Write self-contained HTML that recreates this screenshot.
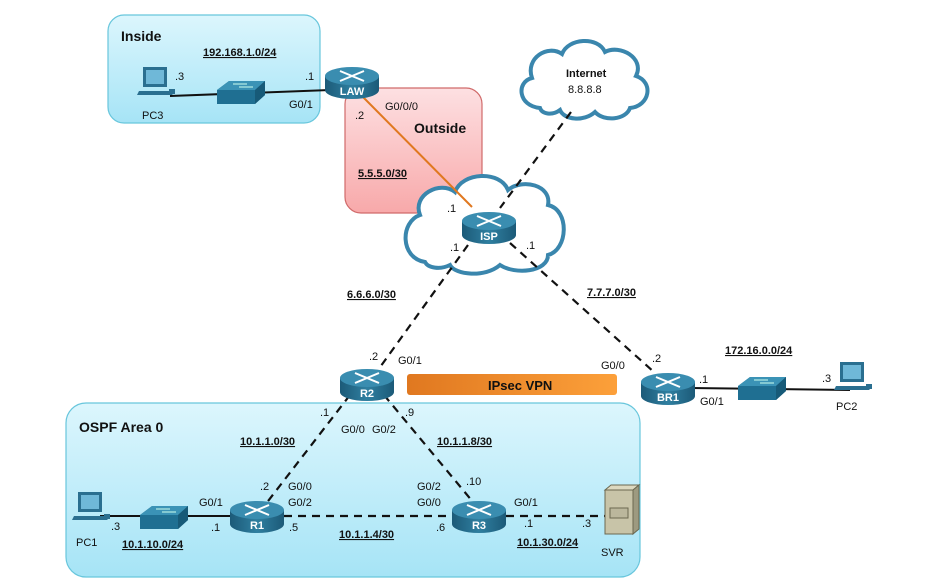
<!DOCTYPE html>
<html><head><style>
html,body{margin:0;padding:0;background:#fff}
svg{display:block;font-family:"Liberation Sans",Arial,sans-serif}
.l{font-size:11px;fill:#111}
.b{font-size:11px;font-weight:bold;fill:#111;text-decoration:underline}
.t{font-size:14px;font-weight:bold;fill:#111}
.rl{font-size:11px;font-weight:bold;fill:#fff}
</style></head><body>
<svg width="926" height="587" viewBox="0 0 926 587" xmlns="http://www.w3.org/2000/svg">
<defs>
<linearGradient id="cy" x1="0" y1="0" x2="0" y2="1"><stop offset="0" stop-color="#dcf6fd"/><stop offset="1" stop-color="#a6e4f6"/></linearGradient>
<linearGradient id="pk" x1="0" y1="0" x2="0" y2="1"><stop offset="0" stop-color="#fde0e2"/><stop offset="1" stop-color="#f8a9aa"/></linearGradient>
<linearGradient id="or" x1="0" y1="0" x2="1" y2="0"><stop offset="0" stop-color="#e07820"/><stop offset="1" stop-color="#fca03a"/></linearGradient>
<linearGradient id="rt" x1="0" y1="0" x2="1" y2="0"><stop offset="0" stop-color="#1c5a78"/><stop offset="0.5" stop-color="#2f7fa0"/><stop offset="1" stop-color="#1c5a78"/></linearGradient>
<g id="router">
<path d="M-27,-4 L-27,10 A27,9 0 0 0 27,10 L27,-4 Z" fill="url(#rt)"/>
<ellipse cx="0" cy="-4" rx="27" ry="9" fill="#3a8db0"/>
<path d="M-12,-9 L12,1 M-12,1 L12,-9" stroke="#fff" stroke-width="2"/>
</g>
<g id="switch">
<path d="M-24,0 L-12,-9 L24,-9 L24,5 L14,14 L-24,14 Z" fill="#1f6f92"/>
<path d="M-24,0 L-12,-9 L24,-9 L14,0 Z" fill="#3b93b6"/>
<path d="M14,0 L24,-9 L24,5 L14,14 Z" fill="#175a78"/>
<path d="M-8,-6 L6,-6 M-2,-3 L12,-3" stroke="#cfe" stroke-width="1"/>
</g>
<g id="pc">
<rect x="-12" y="-20" width="24" height="20" fill="#2a6f90"/>
<rect x="-9" y="-17" width="18" height="14" fill="#6fb8d8"/>
<path d="M-16,4 L14,4 L18,8 L-18,8 Z" fill="#2a6f90"/>
<rect x="14" y="2" width="6" height="5" fill="#2a6f90"/>
</g>
</defs>

<rect x="108" y="15" width="212" height="108" rx="16" fill="url(#cy)" stroke="#68c6dc" stroke-width="1.2"/>
<rect x="345" y="88" width="137" height="125" rx="16" fill="url(#pk)" stroke="#d06a6a" stroke-width="1.2"/>
<rect x="66" y="403" width="574" height="174" rx="20" fill="url(#cy)" stroke="#68c6dc" stroke-width="1.2"/>

<path d="M425,262 C400,258 400,222 420,215 C412,195 440,180 455,192 C462,172 500,170 508,190 C522,178 552,185 548,205 C570,210 568,250 548,255 C548,272 515,275 500,265 C485,278 455,275 450,265 C440,270 428,268 425,262 Z" fill="#fff" stroke="#3a86ad" stroke-width="4"/>
<path d="M540,108 C518,106 516,82 532,78 C525,58 548,44 562,54 C568,38 598,36 605,52 C620,44 645,58 636,76 C654,82 650,106 630,108 C626,120 604,122 595,112 C584,122 564,120 560,110 C552,116 542,114 540,108 Z" fill="#fff" stroke="#3a86ad" stroke-width="4"/>

<g stroke="#111" stroke-width="2" fill="none">
<line x1="170" y1="96" x2="330" y2="90"/>
<line x1="100" y1="516" x2="235" y2="516"/>
<line x1="690" y1="388" x2="850" y2="390"/>
</g>
<g stroke="#111" stroke-width="2.2" stroke-dasharray="8,6" fill="none">
<line x1="571" y1="112" x2="500" y2="208"/>
<line x1="468" y1="245" x2="378" y2="370"/>
<line x1="510" y1="243" x2="655" y2="373"/>
<line x1="350" y1="395" x2="265" y2="505"/>
<line x1="384" y1="395" x2="473" y2="502"/>
<line x1="284" y1="516" x2="452" y2="516"/>
<line x1="506" y1="516" x2="605" y2="516"/>
</g>
<line x1="360" y1="94" x2="472" y2="207" stroke="#e07820" stroke-width="2"/>

<rect x="407" y="374" width="210" height="21" rx="3" fill="url(#or)"/>
<text x="488" y="390" class="t" style="font-size:13px">IPsec VPN</text>

<use href="#switch" x="241" y="90"/>
<use href="#pc" x="155" y="87"/>
<use href="#switch" x="164" y="515"/>
<use href="#pc" x="90" y="512"/>
<use href="#switch" x="762" y="386"/>
<use href="#pc" x="852" y="382"/>
<g transform="translate(605,488)">
<rect x="0" y="2" width="28" height="44" fill="#c8c4a8" stroke="#6b6850"/>
<path d="M0,2 L6,-3 L34,-3 L28,2 Z" fill="#ddd9c0" stroke="#6b6850"/>
<path d="M28,2 L34,-3 L34,41 L28,46 Z" fill="#9d9a80" stroke="#6b6850"/>
<rect x="5" y="20" width="18" height="10" fill="#bbb79c" stroke="#6b6850"/>
</g>

<use href="#router" x="352" y="80"/><text x="352" y="95" class="rl" text-anchor="middle">LAW</text>
<use href="#router" x="489" y="225"/><text x="489" y="240" class="rl" text-anchor="middle">ISP</text>
<use href="#router" x="367" y="382"/><text x="367" y="397" class="rl" text-anchor="middle">R2</text>
<use href="#router" x="257" y="514"/><text x="257" y="529" class="rl" text-anchor="middle">R1</text>
<use href="#router" x="479" y="514"/><text x="479" y="529" class="rl" text-anchor="middle">R3</text>
<use href="#router" x="668" y="386"/><text x="668" y="401" class="rl" text-anchor="middle">BR1</text>

<text x="121" y="41" class="t">Inside</text>
<text x="414" y="133" class="t">Outside</text>
<text x="79" y="432" class="t">OSPF Area 0</text>
<text x="203" y="56" class="b">192.168.1.0/24</text>
<text x="175" y="80" class="l">.3</text>
<text x="142" y="119" class="l">PC3</text>
<text x="305" y="80" class="l">.1</text>
<text x="289" y="108" class="l">G0/1</text>
<text x="355" y="119" class="l">.2</text>
<text x="385" y="110" class="l">G0/0/0</text>
<text x="358" y="177" class="b">5.5.5.0/30</text>
<text x="566" y="77" class="l" style="font-weight:bold">Internet</text>
<text x="568" y="93" class="l">8.8.8.8</text>
<text x="447" y="212" class="l">.1</text>
<text x="450" y="251" class="l">.1</text>
<text x="526" y="249" class="l">.1</text>
<text x="347" y="298" class="b">6.6.6.0/30</text>
<text x="587" y="296" class="b">7.7.7.0/30</text>
<text x="369" y="360" class="l">.2</text>
<text x="398" y="364" class="l">G0/1</text>
<text x="601" y="369" class="l">G0/0</text>
<text x="652" y="362" class="l">.2</text>
<text x="725" y="354" class="b">172.16.0.0/24</text>
<text x="699" y="383" class="l">.1</text>
<text x="700" y="405" class="l">G0/1</text>
<text x="822" y="382" class="l">.3</text>
<text x="836" y="410" class="l">PC2</text>
<text x="320" y="416" class="l">.1</text>
<text x="341" y="433" class="l">G0/0</text>
<text x="372" y="433" class="l">G0/2</text>
<text x="405" y="416" class="l">.9</text>
<text x="240" y="445" class="b">10.1.1.0/30</text>
<text x="437" y="445" class="b">10.1.1.8/30</text>
<text x="260" y="490" class="l">.2</text>
<text x="288" y="490" class="l">G0/0</text>
<text x="288" y="506" class="l">G0/2</text>
<text x="199" y="506" class="l">G0/1</text>
<text x="211" y="531" class="l">.1</text>
<text x="289" y="531" class="l">.5</text>
<text x="417" y="490" class="l">G0/2</text>
<text x="466" y="485" class="l">.10</text>
<text x="417" y="506" class="l">G0/0</text>
<text x="436" y="531" class="l">.6</text>
<text x="339" y="538" class="b">10.1.1.4/30</text>
<text x="514" y="506" class="l">G0/1</text>
<text x="524" y="527" class="l">.1</text>
<text x="582" y="527" class="l">.3</text>
<text x="517" y="546" class="b">10.1.30.0/24</text>
<text x="601" y="556" class="l">SVR</text>
<text x="111" y="530" class="l">.3</text>
<text x="76" y="546" class="l">PC1</text>
<text x="122" y="548" class="b">10.1.10.0/24</text>
</svg>
</body></html>
